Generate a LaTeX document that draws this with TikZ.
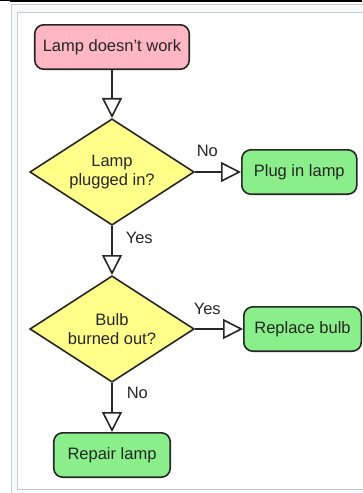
\documentclass[tikz,border=0pt]{standalone}
\usepackage{fontspec}
\setmainfont{Liberation Sans}
\usetikzlibrary{arrows.meta,positioning,shapes.geometric}
\definecolor{lampred}{HTML}{FFB7C3}
\definecolor{lampyellow}{HTML}{FFFF8A}
\definecolor{lampgreen}{HTML}{8AEE8A}
\definecolor{lampline}{HTML}{262626}
\definecolor{framefill}{HTML}{F8F9FA}
\definecolor{frameline}{HTML}{C8CCD1}

\begin{document}
\begin{tikzpicture}[node distance=48pt,font=\fontsize{16.5pt}{19.5pt}\selectfont,text=lampline]
\tikzstyle{box}=[draw=lampline,line width=1.6pt,rounded corners=9pt,minimum height=44.4pt,minimum width=115pt,inner xsep=8pt,fill=lampgreen];
\tikzstyle{decision}=[diamond,draw=lampline,line width=1.6pt,fill=lampyellow,aspect=1.54,inner sep=0pt,minimum width=164.4pt,minimum height=106.4pt,align=center];
\tikzstyle{arrow}=[-{Triangle[length=20pt,width=20pt,fill=white]},line width=1.6pt,draw=lampline];
\tikzstyle{answer}=[inner sep=1pt,anchor=base west,pos=0];
\useasboundingbox (0,0) rectangle (362pt,-493pt);
\fill (0,0) rectangle (10pt,-1pt);
\fill (10pt,0) rectangle (362pt,-1.7pt);
\draw [frameline,fill=framefill] (11.5pt,-4.5pt) rectangle (380pt,-500pt);
\draw [frameline,fill=white] (17.5pt,-12.5pt) rectangle (380pt,-489pt);
\node (1) [box,fill=lampred] at (112pt,-47pt) {Lamp doesn't work};
\node (2) [decision,below=of 1] {Lamp\\plugged in?};
\node (3) [box,right=46pt of 2] {Plug in lamp};
\node (4) [decision,below=49pt of 2] {Bulb\\burned out?};
\node (5) [box,right=48pt of 4,minimum width=117.5pt] {Replace bulb};
\node (6) [box,below=49pt of 4,minimum width=116.5pt] {Repair lamp};
\draw [arrow] (1) -- (2);
\draw [arrow] (2) -- node[answer,yshift=16pt] {No} (3);
\draw [arrow] (2) -- node[answer,xshift=12pt,yshift=-17pt] {Yes} (4);
\draw [arrow] (4) -- node[answer,xshift=-3pt,yshift=15pt] {Yes} (5);
\draw [arrow] (4) -- node[answer,xshift=13pt,yshift=-15pt] {No} (6);
\end{tikzpicture}
\end{document}
